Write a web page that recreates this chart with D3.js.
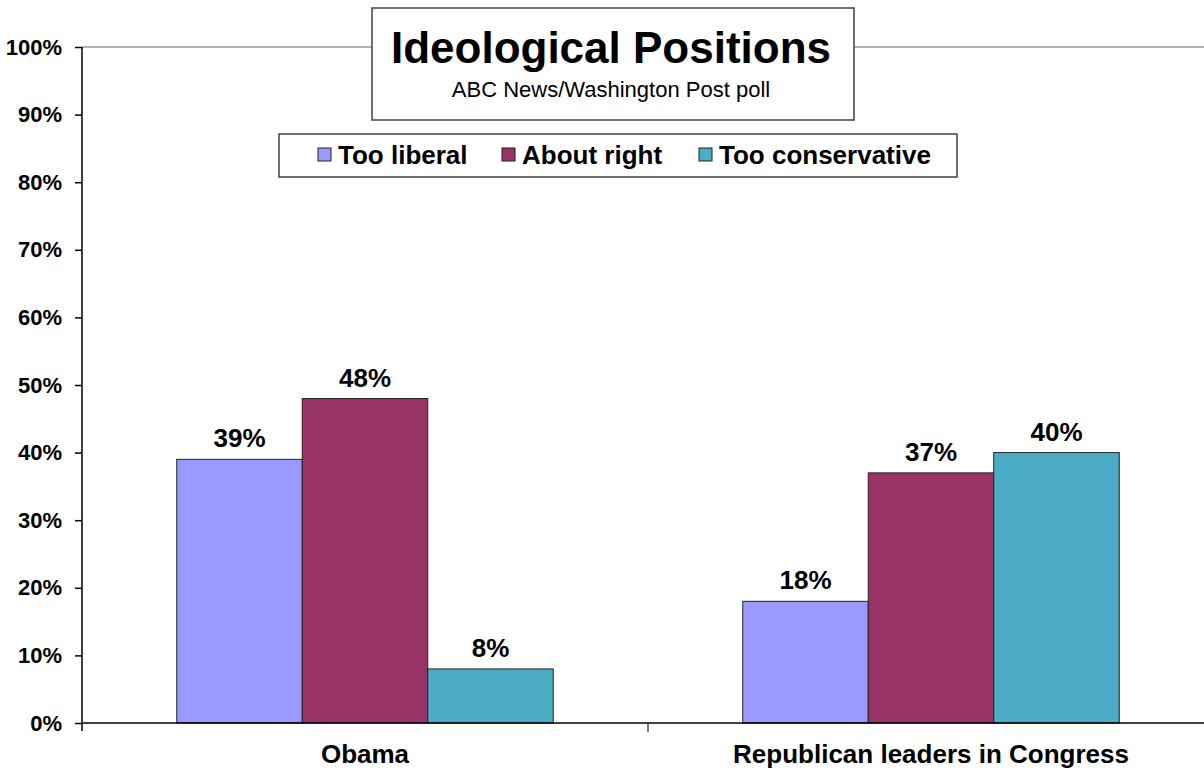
<!DOCTYPE html>
<html>
<head>
<meta charset="utf-8">
<script src="https://cdn.jsdelivr.net/npm/d3@7"></script>
<style>
  html, body { margin: 0; padding: 0; background: #fff; }
  svg { display: block; font-family: "Liberation Sans", Arial, sans-serif; }
</style>
</head>
<body>
<div id="chart"></div>
<script>
// Chart data
const categories = ['Obama', 'Republican leaders in Congress'];
const seriesNames = ['Too liberal', 'About right', 'Too conservative'];
const tooLiberal = [0.39, 0.18];
const aboutRight = [0.48, 0.37];
const tooConservative = [0.08, 0.40];
const yTicks = [0, 0.1, 0.2, 0.3, 0.4, 0.5, 0.6, 0.7, 0.8, 0.9, 1.0];
const TITLE = 'Ideological Positions';
const SUBTITLE = 'ABC News/Washington Post poll';

const COLORS = ['#9999FF', '#993366', '#4BACC6'];

const WIDTH = 1204;
const HEIGHT = 770;
const PLOT = { left: 82, top: 47, right: 1214, bottom: 723 };

const seriesValues = [tooLiberal, aboutRight, tooConservative];
const rows = categories.map((c, i) => ({
  category: c,
  values: seriesNames.map((s, j) => ({ key: s, value: seriesValues[j][i] }))
}));

const svg = d3.select('#chart')
  .append('svg')
  .attr('width', WIDTH)
  .attr('height', HEIGHT);

const x0 = d3.scaleBand()
  .domain(categories)
  .range([PLOT.left, PLOT.right])
  .padding(0);

const x1 = d3.scaleBand()
  .domain(seriesNames)
  .range([0, x0.bandwidth()])
  .paddingInner(0)
  .paddingOuter(0.755);

const y = d3.scaleLinear()
  .domain([0, 1])
  .range([PLOT.bottom, PLOT.top]);

// plot area top border
svg.append('line')
  .attr('x1', PLOT.left)
  .attr('x2', WIDTH)
  .attr('y1', y(1))
  .attr('y2', y(1))
  .attr('stroke', '#9a9a9a')
  .attr('stroke-width', 1.5);

// bars
const groups = svg.selectAll('g.cat')
  .data(rows)
  .join('g')
  .attr('class', 'cat')
  .attr('transform', d => `translate(${x0(d.category)},0)`);

groups.selectAll('rect')
  .data(d => d.values)
  .join('rect')
  .attr('x', d => x1(d.key))
  .attr('y', d => y(d.value))
  .attr('width', x1.bandwidth())
  .attr('height', d => y(0) - y(d.value))
  .attr('fill', (d, i) => COLORS[i])
  .attr('stroke', '#222')
  .attr('stroke-width', 1);

groups.selectAll('text.val')
  .data(d => d.values)
  .join('text')
  .attr('class', 'val')
  .attr('x', d => x1(d.key) + x1.bandwidth() / 2)
  .attr('y', d => y(d.value) - 12)
  .attr('text-anchor', 'middle')
  .attr('font-size', '26px')
  .attr('font-weight', 'bold')
  .attr('fill', '#000')
  .text(d => d3.format('.0%')(d.value));

// y axis
const yAxis = svg.append('g')
  .attr('transform', `translate(${PLOT.left},0)`)
  .call(d3.axisLeft(y).tickValues(yTicks).tickFormat(d3.format('.0%')).tickSize(7).tickPadding(13));
yAxis.select('.domain')
  .attr('d', `M0,${PLOT.top}V${PLOT.bottom + 8}`)
  .attr('stroke', '#000')
  .attr('stroke-width', 1.5);
yAxis.selectAll('.tick line').attr('stroke', '#000').attr('stroke-width', 1.5);
yAxis.selectAll('.tick text')
  .attr('font-size', '22px')
  .attr('font-weight', 'bold')
  .attr('font-family', '"Liberation Sans", Arial, sans-serif')
  .attr('fill', '#000');

// x axis
const xAxis = svg.append('g')
  .attr('transform', `translate(0,${PLOT.bottom})`);
xAxis.append('line')
  .attr('x1', PLOT.left)
  .attr('x2', WIDTH)
  .attr('stroke', '#000')
  .attr('stroke-width', 1.5);
xAxis.selectAll('line.sep')
  .data(categories.slice(1))
  .join('line')
  .attr('class', 'sep')
  .attr('x1', d => x0(d))
  .attr('x2', d => x0(d))
  .attr('y1', 0)
  .attr('y2', 9)
  .attr('stroke', '#000')
  .attr('stroke-width', 1);
xAxis.selectAll('text')
  .data(categories)
  .join('text')
  .attr('x', d => x0(d) + x1('About right') + x1.bandwidth() / 2)
  .attr('y', 40)
  .attr('text-anchor', 'middle')
  .attr('font-size', '26px')
  .attr('font-weight', 'bold')
  .attr('fill', '#000')
  .text(d => d);

// title box
const titleG = svg.append('g');
titleG.append('rect')
  .attr('x', 372)
  .attr('y', 8)
  .attr('width', 482)
  .attr('height', 112)
  .attr('fill', '#fff')
  .attr('stroke', '#404040')
  .attr('stroke-width', 1.5);
titleG.append('text')
  .attr('x', 611)
  .attr('y', 63)
  .attr('text-anchor', 'middle')
  .attr('font-size', '44px')
  .attr('font-weight', 'bold')
  .attr('fill', '#000')
  .text(TITLE);
titleG.append('text')
  .attr('x', 611)
  .attr('y', 97)
  .attr('text-anchor', 'middle')
  .attr('font-size', '22px')
  .attr('fill', '#000')
  .text(SUBTITLE);

// legend
const legendG = svg.append('g');
legendG.append('rect')
  .attr('x', 279)
  .attr('y', 134)
  .attr('width', 678)
  .attr('height', 43)
  .attr('fill', '#fff')
  .attr('stroke', '#404040')
  .attr('stroke-width', 1.5);
const legendX = [318, 502, 699];
const items = legendG.selectAll('g.item')
  .data(seriesNames)
  .join('g')
  .attr('class', 'item')
  .attr('transform', (d, i) => `translate(${legendX[i]},148)`);
items.append('rect')
  .attr('width', 13)
  .attr('height', 13)
  .attr('fill', (d, i) => COLORS[i])
  .attr('stroke', '#222')
  .attr('stroke-width', 1);
items.append('text')
  .attr('x', 20)
  .attr('y', 16)
  .attr('font-size', '26px')
  .attr('font-weight', 'bold')
  .attr('fill', '#000')
  .text(d => d);
</script>
</body>
</html>
